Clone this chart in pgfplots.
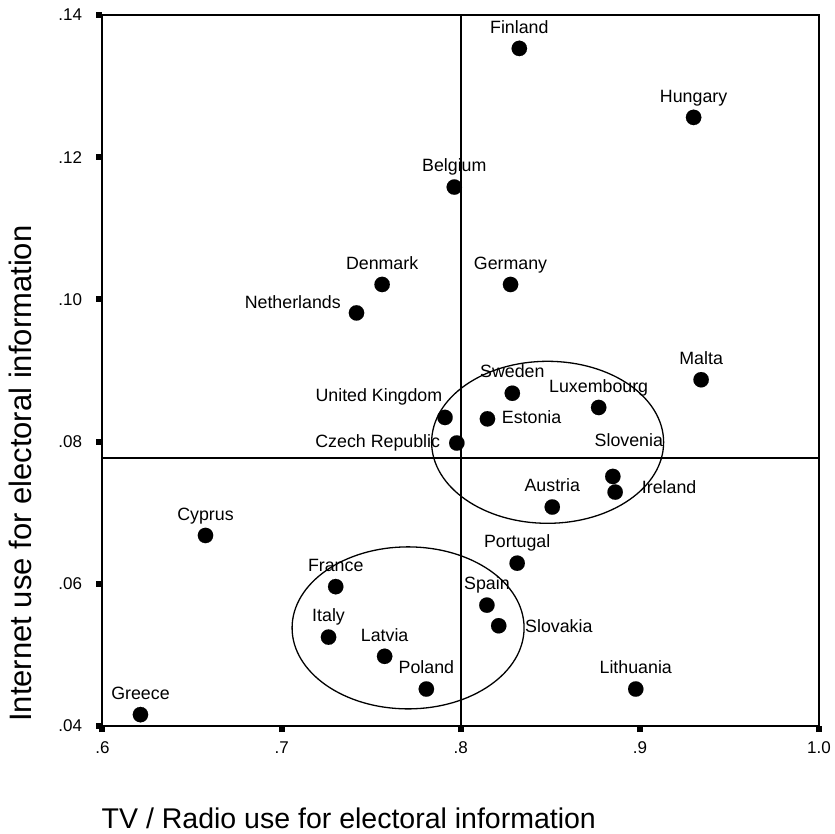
\documentclass[border=0pt]{standalone}
\usepackage{fontspec}
\setmainfont{Liberation Sans}
\usepackage{pgfplots}
\pgfplotsset{compat=1.18}
\newcommand\lbl{\fontsize{17.8bp}{20bp}\selectfont}
\newcommand\tck{\fontsize{17bp}{20bp}\selectfont}
\newcommand\xttl{\fontsize{28.5bp}{32bp}\selectfont}
\newcommand\yttl{\fontsize{31bp}{34bp}\selectfont}
\pgfplotsset{pt/.style={only marks, mark=*, mark size=7.7bp, black,
  mark options={solid, fill=black, draw=black, line width=0.1bp},
  nodes near coords, point meta=explicit symbolic,
  every node near coord/.append style={font=\lbl, inner sep=0pt, text=black}}}
\begin{document}
\begin{tikzpicture}
\path[use as bounding box] (-102.5bp,-108bp) rectangle (732.5bp,726bp);
\begin{axis}[
  at={(0,0)}, anchor=south west,
  scale only axis, width=716.5bp, height=711bp,
  xmin=0.6, xmax=1.0, ymin=0.04, ymax=0.14,
  axis line style={line width=2bp, black},
  xtick={0.6,0.7,0.8,0.9,1.0}, xticklabels={.6,.7,.8,.9,1.0},
  ytick={0.04,0.06,0.08,0.10,0.12,0.14}, yticklabels={.04,.06,.08,.10,.12,.14},
  tick align=outside, tick pos=left, major tick length=6bp,
  tick style={line width=6bp, black},
  ticklabel style={font=\tck, inner sep=0pt},
  xticklabel style={anchor=north, yshift=-9.5bp},
  yticklabel style={anchor=east, xshift=-14.2bp},
  clip=false,
  xlabel={TV / Radio use for electoral information},
  ylabel={Internet use for electoral information},
  every axis x label/.style={at={(axis description cs:0,0)}, anchor=base west, xshift=-1bp, yshift=-102bp, font=\xttl, inner sep=0pt},
  every axis y label/.style={at={(axis description cs:-0.0984,0.0056)}, rotate=90, anchor=base west, font=\yttl, inner sep=0pt},
]
% reference lines
\addplot[line width=1.8bp, black, no marks] coordinates {(0.8,0.04) (0.8,0.14)};
\addplot[line width=1.8bp, black, no marks] coordinates {(0.6,0.0777) (1.0,0.0777)};
% ellipses
\draw[line width=1.3bp] (axis cs:0.8485,0.0799) ellipse [x radius=116bp, y radius=81bp];
\draw[line width=1.3bp] (axis cs:0.7706,0.0538) ellipse [x radius=116bp, y radius=81bp];
% points, labels above
\addplot[pt, every node near coord/.append style={anchor=base, yshift=15.3bp}] coordinates {
 (0.8327,0.1353) [Finland]
 (0.9300,0.1256) [Hungary]
 (0.7964,0.1158) [Belgium]
 (0.7561,0.1021) [Denmark]
 (0.8278,0.1021) [Germany]
 (0.9342,0.0887) [Malta]
 (0.8288,0.0868) [Sweden]
 (0.8770,0.0848) [Luxembourg]
 (0.8511,0.0708) [Austria]
 (0.6575,0.0668) [Cyprus]
 (0.8315,0.0629) [Portugal]
 (0.7302,0.0596) [France]
 (0.8146,0.0570) [Spain]
 (0.7262,0.0525) [Italy]
 (0.7575,0.0498) [Latvia]
 (0.7808,0.0452) [Poland]
 (0.8977,0.0452) [Lithuania]
 (0.6212,0.0416) [Greece]
};
\addplot[pt, every node near coord/.append style={anchor=base, xshift=16bp, yshift=30bp}] coordinates {
 (0.8849,0.0751) [Slovenia]
};
\addplot[pt, every node near coord/.append style={anchor=base east, xshift=-2.7bp, yshift=15.6bp}] coordinates {
 (0.7912,0.0834) [United Kingdom]
};
\addplot[pt, every node near coord/.append style={anchor=base east, xshift=-16.7bp, yshift=-4.6bp}] coordinates {
 (0.7978,0.0798) [Czech Republic]
};
\addplot[pt, every node near coord/.append style={anchor=base east, xshift=-15.7bp, yshift=4.4bp}] coordinates {
 (0.7418,0.0981) [Netherlands]
};
\addplot[pt, every node near coord/.append style={anchor=base west, xshift=14.4bp, yshift=-5bp}] coordinates {
 (0.8149,0.0832) [Estonia]
};
\addplot[pt, every node near coord/.append style={anchor=base west, xshift=26.7bp, yshift=-1.3bp}] coordinates {
 (0.8862,0.0729) [Ireland]
};
\addplot[pt, every node near coord/.append style={anchor=base west, xshift=26.4bp, yshift=-6.6bp}] coordinates {
 (0.8212,0.0541) [Slovakia]
};
\end{axis}
\end{tikzpicture}
\end{document}
